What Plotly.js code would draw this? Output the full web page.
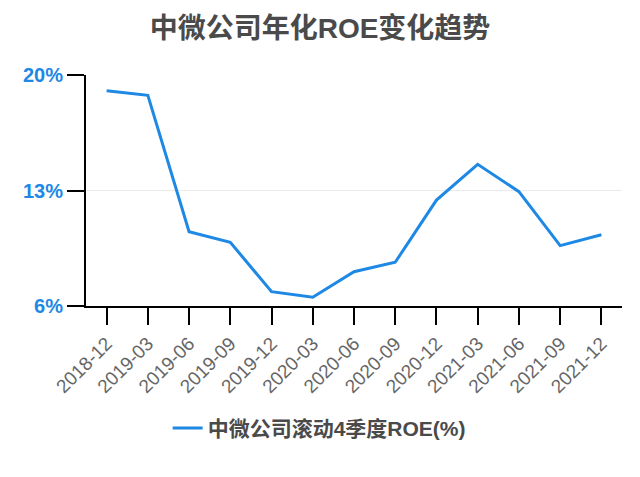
<!DOCTYPE html>
<html>
<head>
<meta charset="utf-8">
<script src="https://cdn.plot.ly/plotly-3.0.1.min.js"></script>
<style>
  html, body { margin: 0; padding: 0; background: #fff; }
  #chart { width: 640px; height: 477px; }
</style>
</head>
<body>
<div id="chart"></div>
<script>
// quarters and rolling ROE
let quarters = ['2018-12', '2019-03', '2019-06', '2019-09', '2019-12', '2020-03', '2020-06',
                '2020-09', '2020-12', '2021-03', '2021-06', '2021-09', '2021-12'];
let roe = [19.05, 18.77, 10.5, 9.86, 6.87, 6.53, 8.08, 8.65, 12.42, 14.59, 12.93, 9.66, 10.32];
let yTicks = [6, 13, 20];
let yTickText = ['6%', '13%', '20%'];

let blue = '#1e88e5';
let fam = '"Liberation Sans", Arial, "Noto Sans CJK SC", sans-serif';

var data = [{
    type: 'scatter',
    mode: 'lines',
    name: '中微公司滚动4季度ROE(%)',
    x: quarters,
    y: roe,
    line: { color: blue, width: 3 },
}];

var layout = {
    width: 640,
    height: 477,
    margin: { t: 75, l: 86, r: 18, b: 171 },
    paper_bgcolor: '#fff',
    plot_bgcolor: '#fff',
    title: {
        text: '<b>中微公司年化ROE变化趋势</b>',
        font: { family: fam, size: 28, color: '#4a4a4a' },
        x: 0.5,
        xanchor: 'center',
        y: 0.94,
        yanchor: 'middle',
    },
    xaxis: {
        type: 'category',
        range: [-0.5, 12.5],
        showline: true,
        linecolor: '#000',
        linewidth: 2,
        ticks: 'outside',
        ticklen: 17,
        tickcolor: '#000',
        tickwidth: 2,
        tickangle: -45,
        showgrid: false,
        tickfont: { family: fam, size: 19, color: '#666' },
    },
    yaxis: {
        range: [6, 20],
        tickvals: yTicks,
        ticktext: yTickText,
        showline: true,
        linecolor: '#000',
        linewidth: 2,
        ticks: 'outside',
        ticklen: 17,
        tickcolor: '#000',
        tickwidth: 2,
        showgrid: true,
        gridcolor: '#ebebeb',
        gridwidth: 1,
        zeroline: false,
        tickfont: { family: fam, size: 20, color: blue, weight: 'bold' },
    },
    showlegend: true,
    legend: {
        orientation: 'h',
        x: 0.435,
        xanchor: 'center',
        y: -0.53,
        yanchor: 'middle',
        font: { family: fam, size: 21, color: '#4a4a4a', weight: 'bold' },
    },
};

Plotly.newPlot('chart', data, layout, { staticPlot: true, displayModeBar: false });
</script>
</body>
</html>
